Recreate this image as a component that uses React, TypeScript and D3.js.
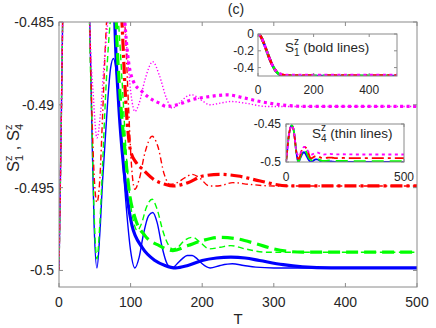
import React from "react";
import * as d3 from "d3";

type Pt = [number, number];

// S1 (bold lines): shared fast decay from 0, then each colour's tail
const s1Decay: Pt[] = [[0, 0], [10, -0.03], [20, -0.1], [30, -0.19], [40, -0.28], [50, -0.36], [60, -0.42]];
const blueS1Tail: Pt[] = [[70, -0.463], [78, -0.485], [83, -0.4897], [88, -0.4927], [95, -0.4955], [102, -0.4973], [116, -0.4986], [134, -0.4994], [148, -0.4997], [163, -0.49985], [180, -0.4997], [200, -0.4994], [220, -0.49925], [240, -0.4992], [260, -0.49925], [280, -0.4994], [313, -0.49965], [340, -0.49978], [380, -0.49985], [500, -0.49985]];
const greenS1Tail: Pt[] = [[70, -0.462], [80, -0.485], [86, -0.4898], [92, -0.4927], [99, -0.4955], [106, -0.4968], [120, -0.4979], [140, -0.4985], [159, -0.4988], [180, -0.4985], [200, -0.4982], [225, -0.498], [250, -0.4981], [276, -0.4984], [300, -0.4987], [340, -0.4989], [500, -0.4989]];
const redS1Tail: Pt[] = [[70, -0.458], [80, -0.477], [88, -0.485], [94, -0.4903], [100, -0.4928], [108, -0.4935], [117, -0.4939], [132, -0.4945], [148, -0.4948], [159, -0.4949], [180, -0.4947], [201, -0.4943], [225, -0.4942], [250, -0.4943], [281, -0.4946], [320, -0.4949], [500, -0.4949]];
const magentaS1Tail: Pt[] = [[70, -0.455], [80, -0.474], [88, -0.482], [92, -0.485], [96, -0.487], [104, -0.4886], [116, -0.4892], [127, -0.4896], [140, -0.4899], [150, -0.4901], [165, -0.49], [185, -0.4897], [210, -0.4895], [235, -0.4894], [260, -0.4896], [281, -0.4898], [310, -0.49], [350, -0.4901], [500, -0.4901]];

// S4 (thin lines): shared first swing, then each colour's tail
const s4Rise: Pt[] = [[0, -0.5], [3, -0.4915], [6, -0.482], [10, -0.47], [16, -0.458], [25, -0.452], [33, -0.459], [39, -0.474]];
const blueS4Tail: Pt[] = [[43, -0.485], [46, -0.4915], [49, -0.4972], [53, -0.49985], [57, -0.4978], [61, -0.4945], [64, -0.4925], [68, -0.4898], [72, -0.4878], [76, -0.4872], [80, -0.488], [84, -0.49], [88, -0.4927], [94, -0.4962], [100, -0.4988], [106, -0.49985], [112, -0.4992], [118, -0.4978], [125, -0.4967], [131, -0.4965], [137, -0.4971], [144, -0.4986], [151, -0.4996], [158, -0.49985], [165, -0.4996], [172, -0.4993], [179, -0.4991], [186, -0.4991], [193, -0.4993], [200, -0.4996], [211, -0.49985], [225, -0.4997], [242, -0.4996], [258, -0.4997], [275, -0.4998], [300, -0.49985], [500, -0.49985]];
const greenS4Tail: Pt[] = [[43, -0.486], [46, -0.4912], [49, -0.4965], [53, -0.4993], [57, -0.4972], [61, -0.4935], [65, -0.4895], [70, -0.4858], [77, -0.4835], [83, -0.485], [88, -0.4885], [94, -0.493], [100, -0.496], [105, -0.4972], [109, -0.4976], [115, -0.4972], [122, -0.4962], [130, -0.4957], [137, -0.4963], [145, -0.4976], [152, -0.4984], [159, -0.4987], [166, -0.4986], [175, -0.4982], [187, -0.498], [197, -0.4983], [210, -0.4987], [225, -0.4986], [240, -0.4985], [260, -0.4987], [290, -0.4989], [500, -0.4989]];
const redS4Tail: Pt[] = [[43, -0.485], [46, -0.4905], [49, -0.4942], [53, -0.4959], [57, -0.4945], [61, -0.4905], [65, -0.4862], [70, -0.4825], [77, -0.48], [85, -0.4815], [92, -0.485], [97, -0.49], [101, -0.4935], [106, -0.4951], [112, -0.4945], [120, -0.4929], [130, -0.4919], [138, -0.4925], [147, -0.4942], [155, -0.4948], [165, -0.4947], [176, -0.4944], [186, -0.4942], [196, -0.4944], [210, -0.4949], [222, -0.4949], [243, -0.4947], [265, -0.4948], [300, -0.4949], [500, -0.4949]];
const magentaS4Tail: Pt[] = [[43, -0.485], [48, -0.4895], [53, -0.492], [58, -0.4905], [63, -0.4875], [68, -0.485], [76, -0.48], [84, -0.4805], [88, -0.483], [92, -0.485], [97, -0.4878], [101, -0.4895], [106, -0.4904], [112, -0.4899], [120, -0.4885], [131, -0.4874], [140, -0.4882], [150, -0.4896], [158, -0.4902], [168, -0.4899], [178, -0.4895], [186, -0.4894], [198, -0.4897], [211, -0.49], [225, -0.4899], [240, -0.4898], [260, -0.4899], [290, -0.4901], [500, -0.4901]];

const xTicks = [0, 100, 200, 300, 400, 500];
const yTicks = [-0.5, -0.495, -0.49, -0.485];
const yTickLabels = ["-0.5", "-0.495", "-0.49", "-0.485"];
const inset1XTicks = [0, 200, 400];
const inset1YTicks = [0, -0.2, -0.4];
const inset1YLabels = ["0", "-0.2", "-0.4"];
const inset2XTicks = [0, 500];
const inset2YTicks = [-0.5, -0.45];
const inset2YLabels = ["-0.5", "-0.45"];

const series = [
  { color: "#0000ff", s1: [...s1Decay, ...blueS1Tail], s4: [...s4Rise, ...blueS4Tail] },
  { color: "#00ff00", s1: [...s1Decay, ...greenS1Tail], s4: [...s4Rise, ...greenS4Tail] },
  { color: "#ff0000", s1: [...s1Decay, ...redS1Tail], s4: [...s4Rise, ...redS4Tail] },
  { color: "#ff00ff", s1: [...s1Decay, ...magentaS1Tail], s4: [...s4Rise, ...magentaS4Tail] },
];
// line styles per series: solid, dashed, dash-dot, dotted
const thickDash = ["none", "12,6", "12,4,3,4", "3,3.5"];
const thinDash = ["none", "6,3.5", "6,3,1.5,3", "1.3,2"];

const FONT = "'Liberation Sans', Arial, Helvetica, sans-serif";
const TXT = "#262626";
const AX = "#8a8a8a";

function Frame({ x, y, xt, yt, ytl, fs, xlabY, ylabX, tick }: any) {
  const [x0, x1] = x.range();
  const [y0, y1] = y.range();
  return (
    <g>
      <rect x={x0} y={y1} width={x1 - x0} height={y0 - y1} fill="none" stroke={AX} strokeWidth={1} />
      {xt.map((t: number) => (
        <g key={"x" + t}>
          <line x1={x(t)} x2={x(t)} y1={y0} y2={y0 - tick} stroke={AX} />
          <line x1={x(t)} x2={x(t)} y1={y1} y2={y1 + tick} stroke={AX} />
          <text x={x(t)} y={xlabY} textAnchor="middle" fontSize={fs} fill={TXT} fontFamily={FONT}>{t}</text>
        </g>
      ))}
      {yt.map((t: number, i: number) => (
        <g key={"y" + t}>
          <line x1={x0} x2={x0 + tick} y1={y(t)} y2={y(t)} stroke={AX} />
          <line x1={x1} x2={x1 - tick} y1={y(t)} y2={y(t)} stroke={AX} />
          <text x={ylabX} y={y(t)} dy="0.35em" textAnchor="end" fontSize={fs} fill={TXT} fontFamily={FONT}>{ytl[i]}</text>
        </g>
      ))}
    </g>
  );
}

export default function App() {
  const x = d3.scaleLinear().domain([0, 500]).range([59, 417]);
  const y = d3.scaleLinear().domain([-0.501, -0.485]).range([287, 22]);
  const line = d3.line<Pt>().x(d => x(d[0])).y(d => y(d[1])).curve(d3.curveMonotoneX);

  const x1 = d3.scaleLinear().domain([0, 500]).range([258, 397]);
  const y1 = d3.scaleLinear().domain([-0.5, 0]).range([76, 34]);
  const line1 = d3.line<Pt>().x(d => x1(d[0])).y(d => y1(d[1])).curve(d3.curveMonotoneX);

  const x2 = d3.scaleLinear().domain([0, 500]).range([286, 404]);
  const y2 = d3.scaleLinear().domain([-0.5, -0.45]).range([162, 124]);
  const line2 = d3.line<Pt>().x(d => x2(d[0])).y(d => y2(d[1])).curve(d3.curveMonotoneX);

  return (
    <svg width={436} height={328} style={{ position: "absolute", left: 0, top: 0, background: "#fff" }}>
      <defs>
        <clipPath id="mainClip"><rect x={59} y={22} width={358} height={265} /></clipPath>
        <clipPath id="in1Clip"><rect x={258} y={34} width={139} height={42} /></clipPath>
        <clipPath id="in2Clip"><rect x={286} y={124} width={118} height={38} /></clipPath>
      </defs>

      <g clipPath="url(#mainClip)" fill="none">
        {series.map((s, i) => (
          <g key={i}>
            <path d={line(s.s1 as Pt[]) || ""} stroke={s.color} strokeWidth={3.2} strokeDasharray={thickDash[i]} />
            <path d={line(s.s4 as Pt[]) || ""} stroke={s.color} strokeWidth={1.4} strokeDasharray={thinDash[i]} />
          </g>
        ))}
      </g>
      <Frame x={x} y={y} xt={xTicks} yt={yTicks} ytl={yTickLabels} fs={14} xlabY={307} ylabX={54} tick={4} />

      <text x={236} y={14} textAnchor="middle" fontSize={14} fill={TXT} fontFamily={FONT}>(c)</text>
      <text x={238} y={324} textAnchor="middle" fontSize={15} fill={TXT} fontFamily={FONT}>T</text>
      <text transform="translate(19,148) rotate(-90)" textAnchor="middle" fontSize={16.5} fill={TXT} fontFamily={FONT}>
        <tspan>S</tspan>
        <tspan fontSize={11} dy={-7}>z</tspan>
        <tspan fontSize={11} dx={-5.5} dy={11}>1</tspan>
        <tspan dy={-4}> , S</tspan>
        <tspan fontSize={11} dy={-7}>z</tspan>
        <tspan fontSize={11} dx={-5.5} dy={11}>4</tspan>
      </text>

      {/* inset 1: S1 */}
      <rect x={258} y={34} width={139} height={42} fill="#fff" />
      <g clipPath="url(#in1Clip)" fill="none">
        {series.map((s, i) => (
          <path key={i} d={line1(s.s1 as Pt[]) || ""} stroke={s.color} strokeWidth={2.6} strokeDasharray={thickDash[i]} />
        ))}
      </g>
      <Frame x={x1} y={y1} xt={inset1XTicks} yt={inset1YTicks} ytl={inset1YLabels} fs={12} xlabY={94} ylabX={254} tick={3} />
      <text x={285} y={52} fontSize={13.5} fill={TXT} fontFamily={FONT}>
        <tspan>S</tspan>
        <tspan fontSize={10} dy={-7}>z</tspan>
        <tspan fontSize={10} dx={-5} dy={11}>1</tspan>
        <tspan dy={-4}> (bold lines)</tspan>
      </text>

      {/* inset 2: S4 */}
      <rect x={286} y={124} width={118} height={38} fill="#fff" />
      <g clipPath="url(#in2Clip)" fill="none">
        {series.map((s, i) => (
          <path key={i} d={line2(s.s4 as Pt[]) || ""} stroke={s.color} strokeWidth={1.8} strokeDasharray={thickDash[i]} />
        ))}
      </g>
      <Frame x={x2} y={y2} xt={inset2XTicks} yt={inset2YTicks} ytl={inset2YLabels} fs={12} xlabY={181} ylabX={281} tick={3} />
      <text x={312} y={138} fontSize={13.5} fill={TXT} fontFamily={FONT}>
        <tspan>S</tspan>
        <tspan fontSize={10} dy={-7}>z</tspan>
        <tspan fontSize={10} dx={-5} dy={11}>4</tspan>
        <tspan dy={-4}> (thin lines)</tspan>
      </text>
    </svg>
  );
}
